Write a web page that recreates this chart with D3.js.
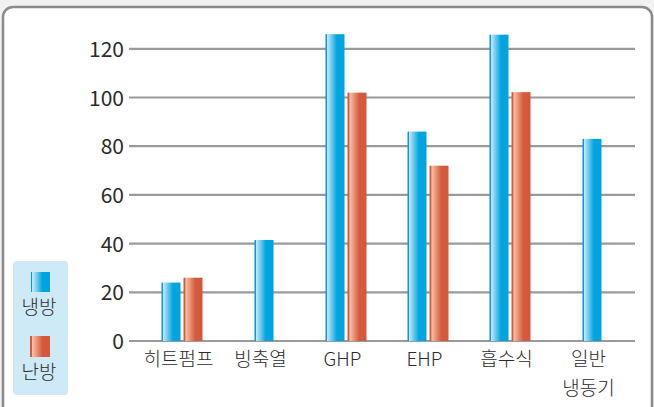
<!DOCTYPE html>
<html><head><meta charset="utf-8">
<script src="https://cdn.jsdelivr.net/npm/d3@7"></script>
<style>
html,body{margin:0;padding:0;background:#f0f1f3;}
svg{display:block;}
text{font-family:"Noto Sans CJK KR","Noto Sans",sans-serif;fill:#2b2b2b;font-weight:300;}
</style></head>
<body>
<svg id="chart" width="654" height="407"></svg>
<script>
const categories = [["히트펌프"],["빙축열"],["GHP"],["EHP"],["흡수식"],["일반","냉동기"]];
const cooling = [24, 41.5, 126, 86, 125.8, 83];
const heating = [26, null, 102, 72, 102.2, null];
const yTicks = [0, 20, 40, 60, 80, 100, 120];
const seriesNames = ["냉방", "난방"];

const svg = d3.select("#chart");
const defs = svg.append("defs");

const gb = defs.append("linearGradient").attr("id","gBlue").attr("x1","0").attr("x2","1").attr("y1","0").attr("y2","0");
[[0,"#0a98d8"],[0.06,"#0a98d8"],[0.08,"#cbe8f8"],[0.6,"#00a5e0"],[1,"#00a3df"]].forEach(s=>gb.append("stop").attr("offset",s[0]).attr("stop-color",s[1]));
const gr = defs.append("linearGradient").attr("id","gRed").attr("x1","0").attr("x2","1").attr("y1","0").attr("y2","0");
[[0,"#d45a3e"],[0.08,"#d45a3e"],[0.12,"#f7c1a3"],[0.62,"#d55a3d"],[1,"#d4573b"]].forEach(s=>gr.append("stop").attr("offset",s[0]).attr("stop-color",s[1]));

// outer panel
svg.append("rect").attr("x",3).attr("y",7).attr("width",649).attr("height",420)
  .attr("rx",10).attr("fill","#ffffff").attr("stroke","#8a8a8a").attr("stroke-width",2.5);

const y = d3.scaleLinear().domain([0,120]).range([341, 48.8]);
const x = d3.scaleBand().domain(d3.range(categories.length)).range([141, 633]).paddingInner(0).paddingOuter(0);

// grid + axis
const yAxis = d3.axisLeft(y).tickValues(yTicks).tickSize(0).tickPadding(0);
const ga = svg.append("g").attr("transform","translate(129,0)").call(yAxis);
ga.select(".domain").remove();
ga.selectAll("text").attr("x",-5).attr("dy","0.36em")
  .style("font-size","21px").style("font-family","'Liberation Sans Narrow','Noto Sans CJK KR',sans-serif")
  .style("font-weight","400").attr("fill","#2b2b2b");
svg.append("g").selectAll("line").data(yTicks).join("line")
  .attr("x1",129).attr("x2",635).attr("y1",d=>y(d)).attr("y2",d=>y(d))
  .attr("stroke","#9a9a9c").attr("stroke-width",2.2);

const bw = 19, gap = 3;
const bars = svg.append("g");
categories.forEach((c,i)=>{
  const cx = x(i) + x.bandwidth()/2;
  const pair = heating[i] != null;
  const bx = pair ? cx - gap/2 - bw : cx - bw/2;
  bars.append("rect").attr("x",bx).attr("y",y(cooling[i])).attr("width",bw).attr("height",y(0)-y(cooling[i])).attr("fill","url(#gBlue)");
  if(pair){
    bars.append("rect").attr("x",cx+gap/2).attr("y",y(heating[i])).attr("width",bw).attr("height",y(0)-y(heating[i])).attr("fill","url(#gRed)");
  }
  const t = svg.append("text").attr("x",cx-3.5).attr("y",366).attr("text-anchor","middle").style("font-size","19px");
  c.forEach((line,k)=>t.append("tspan").attr("x",cx-3.5).attr("dy",k===0?0:29).text(line));
});

// legend
const lg = svg.append("g");
lg.append("rect").attr("x",13).attr("y",261).attr("width",55).attr("height",134).attr("rx",4).attr("fill","#cdeaf6");
lg.append("rect").attr("x",31).attr("y",272).attr("width",19).attr("height",20).attr("fill","url(#gBlue)");
lg.append("text").attr("x",39).attr("y",314).attr("text-anchor","middle").style("font-size","19px").text(seriesNames[0]);
lg.append("rect").attr("x",30).attr("y",336).attr("width",20).attr("height",21).attr("fill","url(#gRed)");
lg.append("text").attr("x",39).attr("y",379).attr("text-anchor","middle").style("font-size","19px").text(seriesNames[1]);
</script>
</body></html>
